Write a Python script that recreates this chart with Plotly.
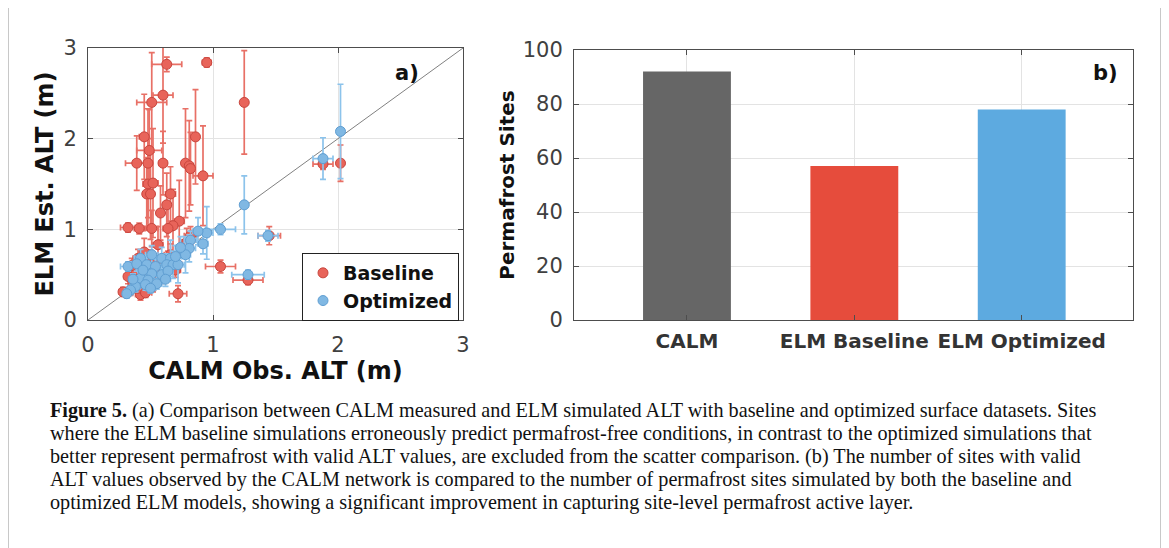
import plotly.graph_objects as go

OFF = 8  # default page body margin in the browser
W, H = 1169 - OFF, 548 - OFF

# ---------------- Panel a) data (CALM obs vs ELM est ALT, m) ----------------
base_x = [0.63, 0.95, 1.25, 0.60, 0.51, 0.45, 0.86, 0.49, 0.39, 0.48, 0.60, 0.78, 0.81, 0.82,
          0.92, 0.48, 0.52, 0.47, 0.50, 0.66, 0.63, 0.58, 0.73, 0.68, 0.32, 0.41, 0.51, 0.64,
          0.79, 0.56, 0.45, 0.40, 0.32, 0.34, 0.42, 0.72, 1.06, 1.45, 1.28, 1.88, 2.02, 0.38,
          0.48, 0.55, 0.28, 0.44, 0.36, 0.50, 0.60, 0.40, 0.52, 0.46, 0.35, 0.82, 0.66, 0.58, 0.70]
base_y = [2.82, 2.84, 2.40, 2.48, 2.40, 2.02, 2.02, 1.87, 1.73, 1.73, 1.73, 1.73, 1.70, 1.67,
          1.59, 1.50, 1.51, 1.39, 1.39, 1.39, 1.27, 1.18, 1.09, 1.04, 1.02, 1.01, 1.01, 1.01,
          0.86, 0.83, 0.75, 0.68, 0.48, 0.33, 0.28, 0.29, 0.59, 0.93, 0.44, 1.72, 1.73, 0.55,
          0.42, 0.53, 0.31, 0.62, 0.40, 0.65, 0.60, 0.35, 0.37, 0.30, 0.60, 0.93, 0.72, 0.46, 0.55]
base_xerr = [0.12, 0.035, 0.0, 0.08, 0.12, 0.04, 0.0, 0.10, 0.09, 0.03, 0.03, 0.03, 0.03, 0.03,
             0.08, 0.04, 0.04, 0.03, 0.03, 0.04, 0.03, 0.03, 0.04, 0.03, 0.06, 0.04, 0.05, 0.04,
             0.04, 0.04, 0.04, 0.04, 0.03, 0.03, 0.04, 0.07, 0.12, 0.09, 0.12, 0.08, 0.0, 0.04,
             0.04, 0.04, 0.03, 0.05, 0.03, 0.05, 0.05, 0.04, 0.04, 0.05, 0.03, 0.05, 0.05, 0.04, 0.04]
base_yerr = [0.08, 0.05, 0.57, 0.53, 0.55, 0.47, 0.52, 0.45, 0.30, 0.60, 0.35, 0.60, 0.50, 0.40,
             0.55, 0.50, 0.60, 0.40, 0.50, 0.30, 0.35, 0.30, 0.45, 0.40, 0.05, 0.06, 0.20, 0.25,
             0.15, 0.20, 0.15, 0.10, 0.08, 0.06, 0.06, 0.09, 0.07, 0.10, 0.05, 0.06, 0.20, 0.08,
             0.08, 0.10, 0.05, 0.10, 0.06, 0.12, 0.10, 0.06, 0.06, 0.05, 0.08, 0.10, 0.12, 0.06, 0.08]

opt_x = [2.02, 1.88, 1.25, 1.06, 0.95, 0.88, 0.92, 0.82, 0.81, 0.78, 1.44, 1.28, 0.51, 0.59,
         0.66, 0.42, 0.32, 0.39, 0.47, 0.54, 0.63, 0.68, 0.72, 0.51, 0.59, 0.42, 0.48, 0.46,
         0.38, 0.34, 0.31, 0.44, 0.55, 0.64, 0.70, 0.36, 0.50, 0.74, 0.62]
opt_y = [2.08, 1.78, 1.27, 1.00, 0.96, 0.98, 0.84, 0.88, 0.79, 0.72, 0.93, 0.50, 0.72, 0.68,
         0.68, 0.68, 0.59, 0.62, 0.61, 0.59, 0.61, 0.61, 0.61, 0.51, 0.50, 0.46, 0.44, 0.39,
         0.37, 0.33, 0.29, 0.55, 0.40, 0.54, 0.70, 0.45, 0.35, 0.80, 0.45]
opt_xerr = [0.0, 0.08, 0.0, 0.12, 0.05, 0.04, 0.04, 0.05, 0.05, 0.04, 0.08, 0.13, 0.05, 0.05,
            0.05, 0.05, 0.06, 0.04, 0.04, 0.04, 0.04, 0.04, 0.05, 0.04, 0.04, 0.04, 0.04, 0.04,
            0.04, 0.03, 0.03, 0.04, 0.04, 0.04, 0.05, 0.03, 0.04, 0.04, 0.04]
opt_yerr = [0.52, 0.23, 0.32, 0.06, 0.29, 0.15, 0.11, 0.10, 0.15, 0.20, 0.06, 0.05, 0.10, 0.12,
            0.20, 0.10, 0.05, 0.08, 0.10, 0.08, 0.12, 0.15, 0.20, 0.08, 0.10, 0.06, 0.08, 0.06,
            0.06, 0.05, 0.05, 0.08, 0.06, 0.10, 0.12, 0.06, 0.05, 0.12, 0.08]

one_to_one = [0, 3]
scatter_ticks = [0, 1, 2, 3]

# ---------------- Panel b) data ----------------
bar_categories = ["CALM", "ELM Baseline", "ELM Optimized"]
bar_values = [92, 57, 78]
bar_colors = ["#666666", "#E64C3C", "#5DAAE0"]

caption_lines = [
    "<b>Figure 5.</b> (a) Comparison between CALM measured and ELM simulated ALT with baseline and optimized surface datasets. Sites",
    "where the ELM baseline simulations erroneously predict permafrost-free conditions, in contrast to the optimized simulations that",
    "better represent permafrost with valid ALT values, are excluded from the scatter comparison. (b) The number of sites with valid",
    "ALT values observed by the CALM network is compared to the number of permafrost sites simulated by both the baseline and",
    "optimized ELM models, showing a significant improvement in capturing site-level permafrost active layer.",
]

FONT = "DejaVu Sans"
TICKC = "#404040"

def px(x):
    return (x - OFF) / W

def py(y):
    return 1 - (y - OFF) / H

fig = go.Figure()

fig.add_trace(go.Scatter(
    x=one_to_one, y=one_to_one, mode="lines",
    line=dict(color="#808080", width=1), showlegend=False, hoverinfo="skip",
    xaxis="x", yaxis="y"))

fig.add_trace(go.Scatter(
    x=base_x, y=base_y, mode="markers", name="Baseline",
    marker=dict(size=10, color="rgb(232,100,90)", line=dict(color="rgb(200,70,62)", width=1)),
    error_x=dict(type="data", array=base_xerr, color="rgb(232,112,102)", thickness=1.7, width=3),
    error_y=dict(type="data", array=base_yerr, color="rgb(232,112,102)", thickness=1.7, width=3),
    xaxis="x", yaxis="y"))

fig.add_trace(go.Scatter(
    x=opt_x, y=opt_y, mode="markers", name="Optimized",
    marker=dict(size=10, color="rgb(128,184,227)", line=dict(color="rgb(95,158,210)", width=1)),
    error_x=dict(type="data", array=opt_xerr, color="rgb(140,195,235)", thickness=1.7, width=3),
    error_y=dict(type="data", array=opt_yerr, color="rgb(140,195,235)", thickness=1.7, width=3),
    xaxis="x", yaxis="y"))

fig.add_trace(go.Bar(
    x=bar_categories, y=bar_values, marker=dict(color=bar_colors, line=dict(width=0)),
    width=0.525, showlegend=False, xaxis="x2", yaxis="y2"))

axis_common = dict(
    showline=True, linecolor="#4d4d4d", linewidth=1, mirror="ticks",
    ticks="inside", ticklen=5, tickcolor="#4d4d4d",
    showgrid=True, gridcolor="#e3e3e3", gridwidth=1, zeroline=False,
    automargin=False,
)

fig.update_layout(
    width=W, height=H,
    margin=dict(l=0, r=0, t=0, b=0, autoexpand=False),
    paper_bgcolor="white", plot_bgcolor="white",
    font=dict(family=FONT, color=TICKC),
    xaxis=dict(domain=[px(88), px(463)], range=[0, 3], tickvals=scatter_ticks,
               tickfont=dict(size=21, color=TICKC), ticklabelstandoff=6,
               title=dict(text="<b>CALM Obs. ALT (m)</b>", font=dict(size=24, color="#111"), standoff=2),
               anchor="y", **axis_common),
    yaxis=dict(domain=[py(320), py(48)], range=[0, 3], tickvals=scatter_ticks,
               tickfont=dict(size=21, color=TICKC), ticklabelstandoff=6,
               title=dict(text="<b>ELM Est. ALT (m)</b>", font=dict(size=24, color="#111"), standoff=3),
               anchor="x", **axis_common),
    xaxis2=dict(domain=[px(574), px(1133)], type="category", range=[-0.675, 2.665],
                tickfont=dict(size=20, color="#333", weight="bold"), ticklabelstandoff=3,
                anchor="y2", **axis_common),
    yaxis2=dict(domain=[py(320), py(50)], range=[0, 100], dtick=20,
                tickfont=dict(size=21, color=TICKC), ticklabelstandoff=6,
                title=dict(text="<b>Permafrost Sites</b>", font=dict(size=20, color="#111"), standoff=2),
                anchor="x2", **axis_common),
    legend=dict(x=px(459), y=py(253), xanchor="right", yanchor="top",
                bgcolor="white", bordercolor="#222", borderwidth=1,
                font=dict(size=19, color="#111", weight="bold"),
                itemsizing="trace", tracegroupgap=0),
    showlegend=True,
)

annotations = [
    dict(text="<b>a)</b>", x=px(407), y=py(73), xref="paper", yref="paper",
         xanchor="center", yanchor="middle",
         showarrow=False, font=dict(size=21, color="#111")),
    dict(text="<b>b)</b>", x=px(1105), y=py(73), xref="paper", yref="paper",
         xanchor="center", yanchor="middle",
         showarrow=False, font=dict(size=21, color="#111")),
]
line_y = [410, 433, 456, 479, 502]
for t, yy in zip(caption_lines, line_y):
    annotations.append(dict(text=t, x=px(48), y=py(yy), xref="paper", yref="paper",
                            xanchor="left", yanchor="middle", showarrow=False,
                            font=dict(family="Liberation Serif", size=20.2, color="#111")))
fig.update_layout(annotations=annotations)

fig.add_shape(type="rect", xref="paper", yref="paper",
              x0=px(8.5), x1=px(1160.5), y0=-0.05, y1=py(6.5),
              line=dict(color="#c8c8c8", width=1), fillcolor="rgba(0,0,0,0)")

fig.write_html("out.html")
